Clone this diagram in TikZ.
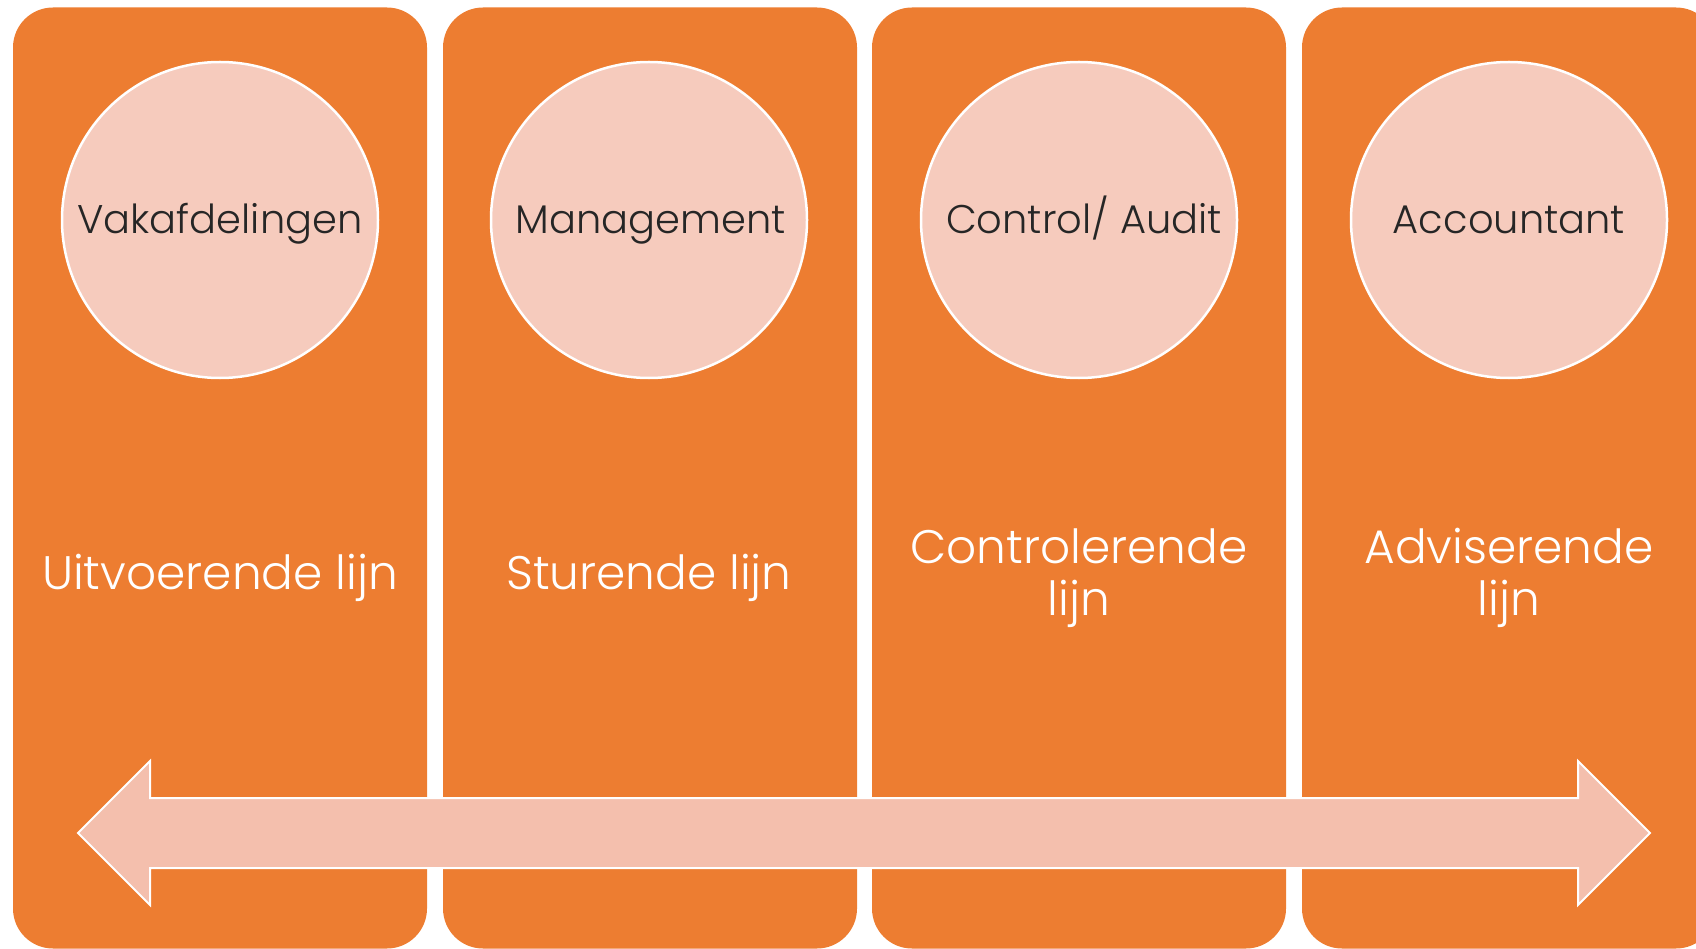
\documentclass[tikz,border=0pt]{standalone}
\usepackage{fontspec}
\setmainfont{Poppins}[UprightFont=* Light]
\definecolor{boxorange}{HTML}{ED7D31}
\definecolor{circfill}{HTML}{F6CBBD}
\definecolor{arrowfill}{HTML}{F4BFAD}
\definecolor{darktext}{HTML}{262626}
\begin{document}
\begin{tikzpicture}[x=1pt,y=-1pt,
  colbox/.style={fill=boxorange,draw=none,rounded corners=40pt},
  circ/.style={circle,fill=circfill,draw=white,line width=2.5pt,minimum size=316pt,inner sep=0pt},
  circtext/.style={anchor=base,inner sep=0pt,text=darktext,font=\fontsize{40}{44}\selectfont},
  linetext/.style={anchor=base,inner sep=0pt,text=white,font=\fontsize{47}{52}\selectfont}]
\useasboundingbox (0,0) rectangle (1696,949);
\clip (0,0) rectangle (1696,949);
% columns
\foreach \i/\x in {1/13,2/443,3/872,4/1302}{
  \fill[colbox] (\x,7.5) rectangle ++(414,941);
}
% circles
\node[circ] (c1) at (220,220) {};
\node[circ] (c2) at (649,220) {};
\node[circ] (c3) at (1079,220) {};
\node[circ] (c4) at (1509,220) {};
\node[circtext] (l1) at (220,234) {Vakafdelingen};
\node[circtext] (l2) at (651,234) {Management};
\node[circtext] (l3) at (1084,234) {Control/ Audit};
\node[circtext] (l4) at (1509,234) {Accountant};
% line labels
\node[linetext] (t1) at (220,589) {Uitvoerende lijn};
\node[linetext] (t2) at (649,589) {Sturende lijn};
\node[linetext] (t3a) at (1079,563) {Controlerende};
\node[linetext] (t3b) at (1079,615) {lijn};
\node[linetext] (t4a) at (1509,563) {Adviserende};
\node[linetext] (t4b) at (1509,615) {lijn};
% double arrow
\draw[fill=arrowfill,draw=white,line width=2pt,line join=miter]
  (78,833) -- (150,761) -- (150,798) -- (1578,798) -- (1578,761) -- (1650,833)
  -- (1578,905) -- (1578,868) -- (150,868) -- (150,905) -- cycle;
\end{tikzpicture}
\end{document}
